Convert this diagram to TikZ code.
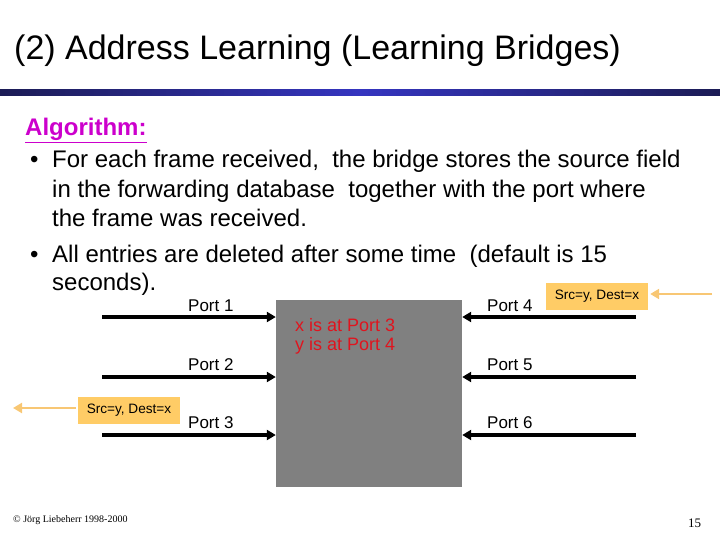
\documentclass[tikz,border=0pt]{standalone}
\usepackage{fontspec}
\setmainfont{Liberation Sans}
\newfontfamily\footfont{Liberation Serif}
\usetikzlibrary{arrows.meta,positioning}
\definecolor{bridgegray}{HTML}{808080}
\definecolor{rulenavy}{HTML}{1C1C55}
\definecolor{ruleblue}{HTML}{3535C0}
\definecolor{algmag}{HTML}{CC00CC}
\definecolor{tabred}{HTML}{E0141E}
\definecolor{frameorange}{HTML}{FFCC66}
\definecolor{framearrow}{HTML}{F8C774}

\begin{document}
\begin{tikzpicture}[
    x=1pt,y=-1pt,
    ttl/.style = {anchor=base west,inner sep=0pt,font=\fontsize{34}{34}\selectfont},
    txt/.style = {anchor=base west,inner sep=0pt,font=\fontsize{24}{24}\selectfont},
    prt/.style = {anchor=base west,inner sep=0pt,font=\fontsize{17}{17}\selectfont},
    lnk/.style = {-{Triangle[length=9pt,width=10pt]},line width=4.5pt},
    frm/.style = {rectangle,fill=frameorange,minimum width=102pt,minimum height=27pt,
                  inner sep=0pt,font=\fontsize{13.6}{13.6}\selectfont},
    fa/.style  = {-{Triangle[length=9pt,width=10pt]},framearrow,line width=2.5pt},
  ]
  \useasboundingbox (0,0) rectangle (720,540);

  % title and rule
  \node[ttl] (title) at (14,60) {(2) Address Learning (Learning Bridges)};
  \shade[left color=rulenavy,right color=rulenavy,middle color=ruleblue]
        (0,90) rectangle (720,96);

  % algorithm text
  \node[txt,font=\fontsize{24}{24}\selectfont\bfseries,text=algmag] (alg) at (25,136)
       {\underline{Algorithm:}};
  \node[txt] (b1) at (30,168) {\textbullet};
  \node[txt] (l1) at (52,168) {For each frame received,\ \ the bridge stores the source field};
  \node[txt] (l2) at (52,197) {in the forwarding database\ \ together with the port where};
  \node[txt] (l3) at (52,226) {the frame was received.};
  \node[txt] (b2) at (30,262) {\textbullet};
  \node[txt] (l4) at (52,262) {All entries are deleted after some time\ \ (default is 15};
  \node[txt] (l5) at (52,290) {seconds).};

  % bridge
  \node[fill=bridgegray,minimum width=186pt,minimum height=187pt,inner sep=0pt]
       (br) at (369,393.5) {};
  \node[anchor=north west,align=left,inner sep=0pt,text=tabred,
        font=\fontsize{18}{19}\selectfont] (tab) at (295,318)
       {x is at Port 3\\y is at Port 4};

  % ports
  \coordinate (s1) at (102,317);
  \coordinate (s2) at (102,377);
  \coordinate (s3) at (102,435);
  \coordinate (s4) at (636,317);
  \coordinate (s5) at (636,377);
  \coordinate (s6) at (636,435);
  \draw[lnk] (s1) -- (s1 -| br.west);
  \draw[lnk] (s2) -- (s2 -| br.west);
  \draw[lnk] (s3) -- (s3 -| br.west);
  \draw[lnk] (s4) -- (s4 -| br.east);
  \draw[lnk] (s5) -- (s5 -| br.east);
  \draw[lnk] (s6) -- (s6 -| br.east);
  \node[prt] (p1) at (188,311) {Port 1};
  \node[prt] (p2) at (188,370) {Port 2};
  \node[prt] (p3) at (188,428) {Port 3};
  \node[prt] (p4) at (487,311) {Port 4};
  \node[prt] (p5) at (487,370) {Port 5};
  \node[prt] (p6) at (487,428) {Port 6};

  % frames
  \node[frm] (fin) at (597,296.5) {Src=y, Dest=x};
  \coordinate (fsrc) at (712,294);
  \draw[fa] (fsrc) -- ([xshift=2pt]fin.east |- fsrc);
  \node[frm] (fout) at (129,410) {Src=y, Dest=x};
  \coordinate (fdst) at (13,408);
  \draw[fa] ([xshift=-2pt]fout.west |- fdst) -- (fdst);

  % footer
  \node[anchor=base west,inner sep=0pt,font=\footfont\fontsize{10}{10}\selectfont] (copy)
       at (13,522) {© Jörg Liebeherr 1998-2000};
  \node[anchor=base west,inner sep=0pt,font=\footfont\fontsize{13}{13}\selectfont] (num)
       at (688,527) {15};

\end{tikzpicture}
\end{document}
